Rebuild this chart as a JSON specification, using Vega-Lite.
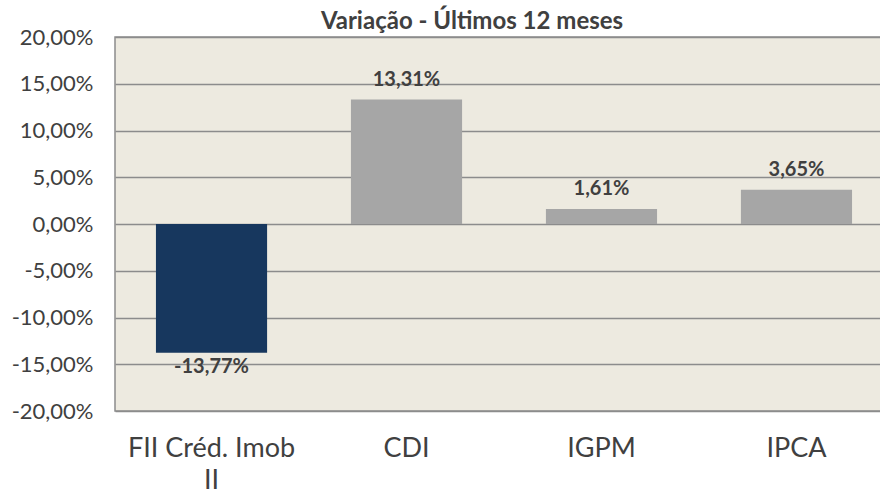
{
  "$schema": "https://vega.github.io/schema/vega-lite/v6.json",
  "width": 778,
  "height": 374,
  "autosize": {"type": "none"},
  "padding": {"left": 115, "top": 37, "right": 0, "bottom": 82},
  "background": "white",
  "title": {
    "text": "Variação - Últimos 12 meses",
    "font": "Lato",
    "fontSize": 24,
    "fontWeight": "bold",
    "color": "#404040",
    "anchor": "middle",
    "dx": -32,
    "offset": -8
  },
  "config": {
    "view": {"fill": "#EDEAE0", "stroke": "#8C8C8C", "strokeWidth": 1.5},
    "font": "Lato"
  },
  "data": {
    "values": [
      {"cat": "FII Créd. Imob II", "v": -13.77, "label": "-13,77%", "grp": "fund"},
      {"cat": "CDI", "v": 13.31, "label": "13,31%", "grp": "idx"},
      {"cat": "IGPM", "v": 1.61, "label": "1,61%", "grp": "idx"},
      {"cat": "IPCA", "v": 3.65, "label": "3,65%", "grp": "idx"}
    ]
  },
  "encoding": {
    "x": {
      "field": "cat",
      "type": "nominal",
      "sort": null,
      "scale": {"paddingInner": 0.43, "paddingOuter": 0.21},
      "axis": {
        "title": null,
        "labelAngle": 0,
        "labelFontSize": 27,
        "labelColor": "#404040",
        "labelFont": "Lato",
        "labelPadding": 24,
        "ticks": false,
        "domain": false,
        "labelExpr": "datum.label == 'FII Créd. Imob II' ? ['FII Créd. Imob', 'II'] : datum.label",
        "labelLineHeight": 32
      }
    },
    "y": {
      "field": "v",
      "type": "quantitative",
      "scale": {"domain": [-20, 20], "nice": false},
      "axis": {
        "title": null,
        "values": [-20, -15, -10, -5, 0, 5, 10, 15, 20],
        "labelExpr": "replace(replace(format(datum.value, '.2f'), '.', ','), '−', '-') + '%'",
        "labelFontSize": 22,
        "labelColor": "#404040",
        "labelFont": "Lato",
        "labelPadding": 22,
        "ticks": false,
        "domain": false,
        "gridColor": "#8C8C8C",
        "gridWidth": 1.5,
        "gridOpacity": 1
      }
    }
  },
  "layer": [
    {
      "mark": {"type": "bar"},
      "encoding": {
        "color": {
          "field": "grp",
          "type": "nominal",
          "scale": {"domain": ["fund", "idx"], "range": ["#17375E", "#A6A6A6"]},
          "legend": null
        }
      }
    },
    {
      "transform": [{"filter": "datum.v >= 0"}],
      "mark": {"type": "text", "baseline": "alphabetic", "dy": -14, "fontSize": 20, "fontWeight": "bold", "color": "#404040", "font": "Lato"},
      "encoding": {"text": {"field": "label"}}
    },
    {
      "transform": [{"filter": "datum.v < 0"}],
      "mark": {"type": "text", "baseline": "top", "dy": 4, "fontSize": 20, "fontWeight": "bold", "color": "#404040", "font": "Lato"},
      "encoding": {"text": {"field": "label"}}
    }
  ]
}
